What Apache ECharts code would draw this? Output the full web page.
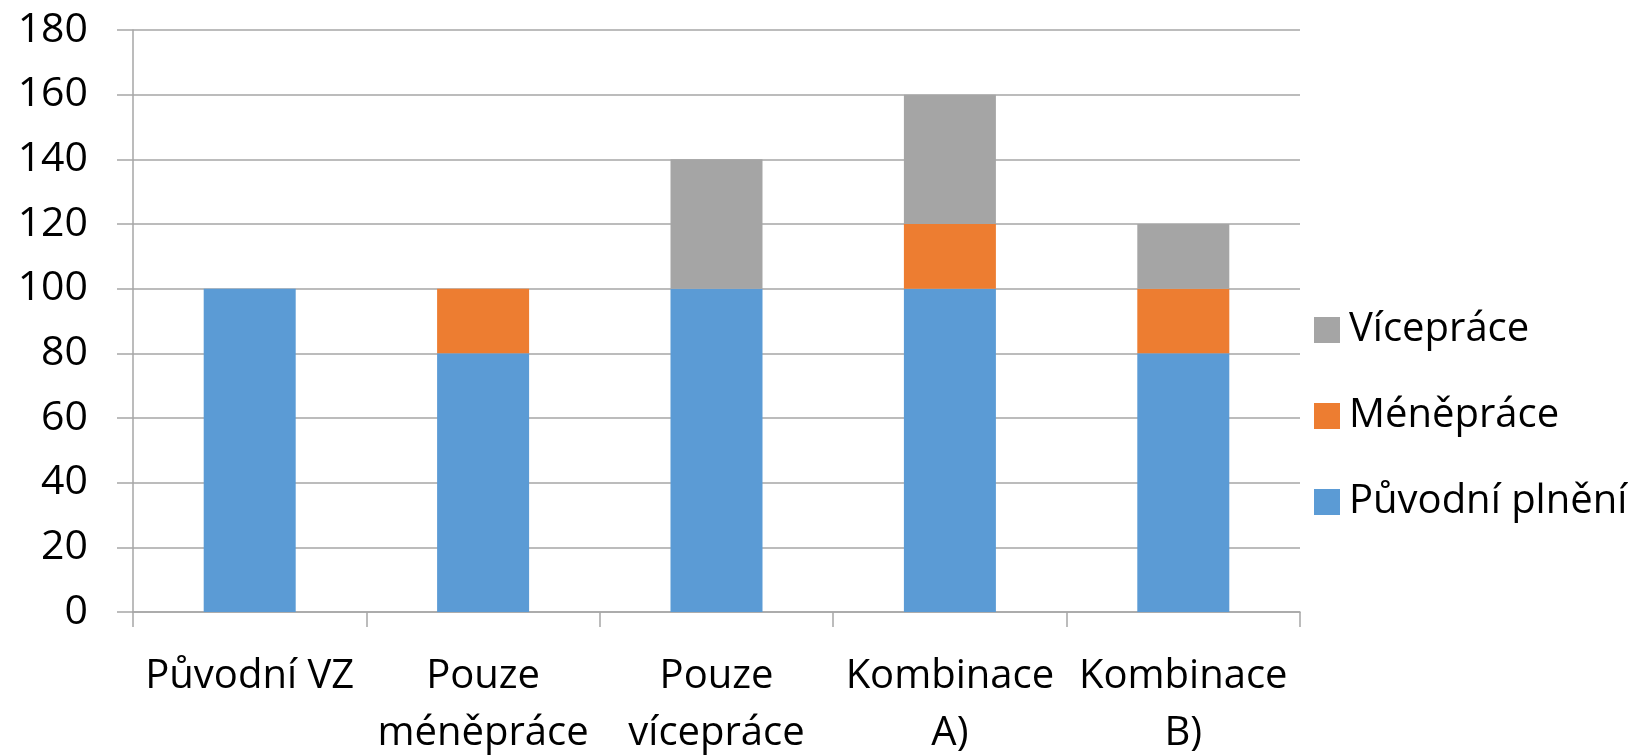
<!DOCTYPE html>
<html>
<head>
<meta charset="utf-8">
<script src="https://cdn.jsdelivr.net/npm/echarts@6/dist/echarts.min.js"></script>
<style>
  html, body { margin: 0; padding: 0; background: #fff; }
  #main { width: 1646px; height: 756px; }
</style>
</head>
<body>
<div id="main"></div>
<script>
const categories = ['Původní VZ', 'Pouze\nméněpráce', 'Pouze\nvícepráce', 'Kombinace\nA)', 'Kombinace\nB)'];
const puvodniPlneni = [100, 80, 100, 100, 80];
const meneprace = [0, 20, 0, 20, 20];
const viceprace = [0, 0, 40, 40, 20];
const yTicks = [0, 20, 40, 60, 80, 100, 120, 140, 160, 180];

const chartDom = document.getElementById('main');
const myChart = echarts.init(chartDom);
const font = 'Open Sans';
let option;

option = {
    animation: false,
    textStyle: { fontFamily: font },
    legend: {
        orient: 'vertical',
        left: 1309,
        top: 305,
        itemWidth: 26,
        itemHeight: 26,
        itemGap: 46,
        icon: 'rect',
        textStyle: { fontSize: 40, color: '#000', fontFamily: font, padding: [0, 0, 0, 4] },
        data: ['Vícepráce', 'Méněpráce', 'Původní plnění']
    },
    grid: {
        left: 133,
        right: 346,
        top: 30,
        bottom: 144,
        outerBoundsMode: 'none'
    },
    yAxis: {
        type: 'value',
        min: yTicks[0],
        max: yTicks[yTicks.length - 1],
        interval: 20,
        axisLine: { show: true, lineStyle: { color: '#a6a6a6', width: 1.5 } },
        axisTick: { show: true, length: 16, lineStyle: { color: '#a6a6a6', width: 1.5 } },
        splitLine: { lineStyle: { color: '#a6a6a6', width: 1.5 } },
        axisLabel: { fontSize: 41, color: '#000', margin: 45, fontFamily: font }
    },
    xAxis: {
        type: 'category',
        data: categories,
        axisLine: { lineStyle: { color: '#a6a6a6', width: 1.5 } },
        axisTick: { show: true, length: 15, lineStyle: { color: '#a6a6a6', width: 1.5 } },
        axisLabel: { fontSize: 40, color: '#000', margin: 36, lineHeight: 57, interval: 0, fontFamily: font }
    },
    series: [
        {
            name: 'Původní plnění',
            type: 'bar',
            stack: 'total',
            color: '#5b9bd5',
            barWidth: 92,
            data: puvodniPlneni
        },
        {
            name: 'Méněpráce',
            type: 'bar',
            stack: 'total',
            color: '#ed7d31',
            barWidth: 92,
            data: meneprace
        },
        {
            name: 'Vícepráce',
            type: 'bar',
            stack: 'total',
            color: '#a5a5a5',
            barWidth: 92,
            data: viceprace
        }
    ]
};

option && myChart.setOption(option);
</script>
</body>
</html>
